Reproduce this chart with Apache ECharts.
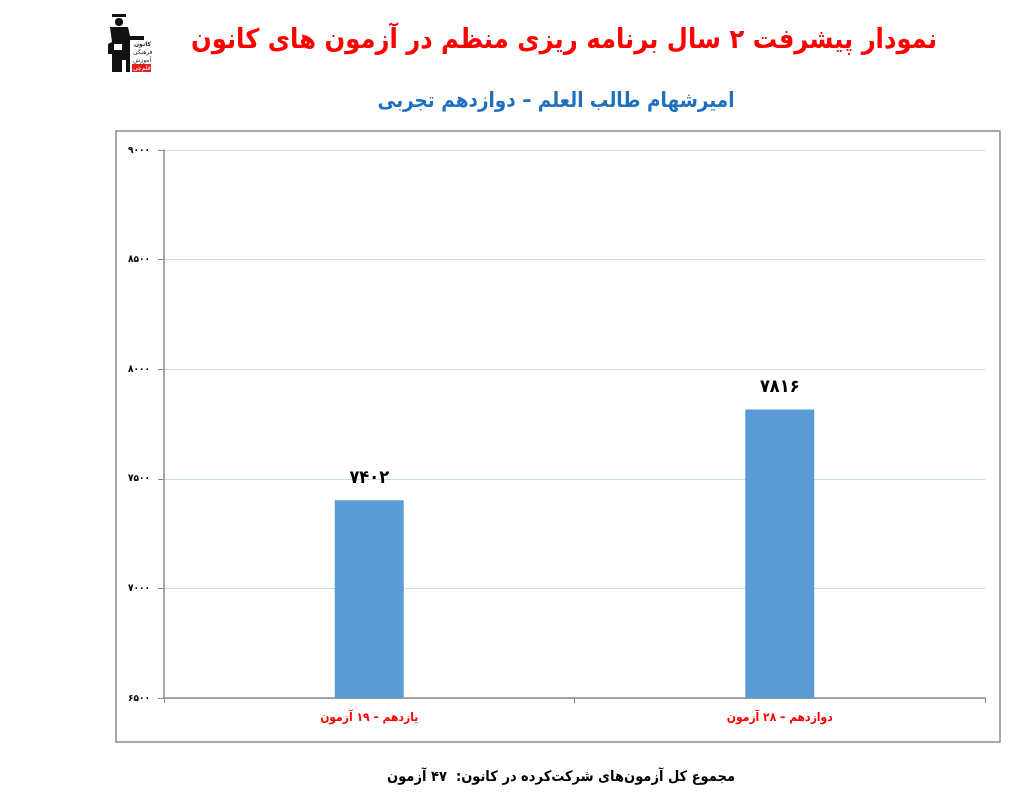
<!DOCTYPE html>
<html>
<head>
<meta charset="utf-8">
<script src="https://cdn.jsdelivr.net/npm/echarts@6/dist/echarts.min.js"></script>
<style>
html,body{margin:0;padding:0;background:#fff;}
#chart{width:1026px;height:805px;}
</style>
</head>
<body>
<div id="chart"></div>
<script>
const categories = ['یازدهم – ۱۹ آزمون', 'دوازدهم – ۲۸ آزمون'];
const values = [7402, 7816];
const yMin = 6500, yMax = 9000, yStep = 500;
const titleText = 'نمودار پیشرفت ۲ سال برنامه ریزی منظم در آزمون های کانون';
const subtitleText = 'امیرشهام طالب العلم – دوازدهم تجربی';
const footerText = 'مجموع کل آزمون‌های شرکت‌کرده در کانون:  ۴۷ آزمون';

const fa = s => String(s).replace(/[0-9]/g, d => '۰۱۲۳۴۵۶۷۸۹'[d]);
const FONT = '"DejaVu Sans Condensed", "DejaVu Sans", sans-serif';

const chart = echarts.init(document.getElementById('chart'));
chart.setOption({
  animation: false,
  backgroundColor: '#fff',
  textStyle: { fontFamily: FONT },
  title: [
    { text: titleText, left: 559, top: 22, textAlign: 'center',
      textStyle: { color: '#ff0000', fontSize: 27, fontWeight: 'bold', fontFamily: FONT } },
    { text: subtitleText, left: 551, top: 86, textAlign: 'center',
      textStyle: { color: '#1f6fc0', fontSize: 20.5, fontWeight: 'bold', fontFamily: FONT } },
    { text: footerText, left: 556, top: 765, textAlign: 'center',
      textStyle: { color: '#000', fontSize: 14.5, fontWeight: 'bold', fontFamily: FONT } }
  ],
  graphic: [
    { type: 'rect', shape: { x: 116, y: 131, width: 884, height: 611 },
      style: { fill: 'none', stroke: '#8c8c8c', lineWidth: 1.5 }, z: -1 },
    // logo approximation
    { type: 'group', left: 108, top: 14, children: [
      { type: 'rect', shape: { x: 8, y: 0, width: 14, height: 3 }, style: { fill: '#111' } },
      { type: 'circle', shape: { cx: 15, cy: 8, r: 4 }, style: { fill: '#111' } },
      { type: 'polygon', shape: { points: [[6,13],[24,13],[26,22],[40,22],[40,26],[26,26],[26,58],[22,58],[22,46],[18,46],[18,58],[8,58],[8,40],[4,40],[4,30],[8,28]] }, style: { fill: '#111' } },
      { type: 'rect', shape: { x: 10, y: 30, width: 8, height: 6 }, style: { fill: '#fff' } },
      { type: 'text', style: { x: 30, y: 27, text: 'کانون', font: 'bold 6px "DejaVu Sans"', fill: '#222' } },
      { type: 'text', style: { x: 29, y: 35, text: 'فرهنگی', font: '6px "DejaVu Sans"', fill: '#222' } },
      { type: 'text', style: { x: 29, y: 43, text: 'آموزش', font: '6px "DejaVu Sans"', fill: '#222' } },
      { type: 'rect', shape: { x: 28, y: 50, width: 19, height: 8 }, style: { fill: '#e0201b' } },
      { type: 'text', style: { x: 29, y: 51, text: 'قلم‌چی', font: '6px "DejaVu Sans"', fill: '#fff' } }
    ]}
  ],
  grid: { left: 164, right: 41, top: 150, bottom: 107, containLabel: false },
  xAxis: {
    type: 'category',
    data: categories,
    axisLine: { lineStyle: { color: '#8c8c8c', width: 1.5 } },
    axisTick: { show: true, alignWithLabel: false, length: 5, lineStyle: { color: '#8c8c8c' } },
    axisLabel: { color: '#ff0000', fontSize: 12, fontWeight: 'bold', margin: 14, fontFamily: FONT }
  },
  yAxis: {
    type: 'value',
    min: yMin, max: yMax, interval: yStep,
    axisLine: { show: true, lineStyle: { color: '#8c8c8c', width: 1.5 } },
    axisTick: { show: true, length: 6, lineStyle: { color: '#8c8c8c' } },
    axisLabel: { color: '#000', fontSize: 10, fontWeight: 'bold', margin: 14, formatter: v => fa(v), fontFamily: FONT },
    splitLine: { show: true, lineStyle: { color: '#c6d9f1', width: 1 } }
  },
  series: [{
    type: 'bar',
    data: values,
    barWidth: 69,
    itemStyle: { color: '#5b9bd5' },
    label: { show: true, position: 'top', distance: 13, color: '#000', fontSize: 18, fontWeight: 'bold',
      formatter: p => fa(p.value), fontFamily: FONT }
  }]
});
</script>
</body>
</html>
